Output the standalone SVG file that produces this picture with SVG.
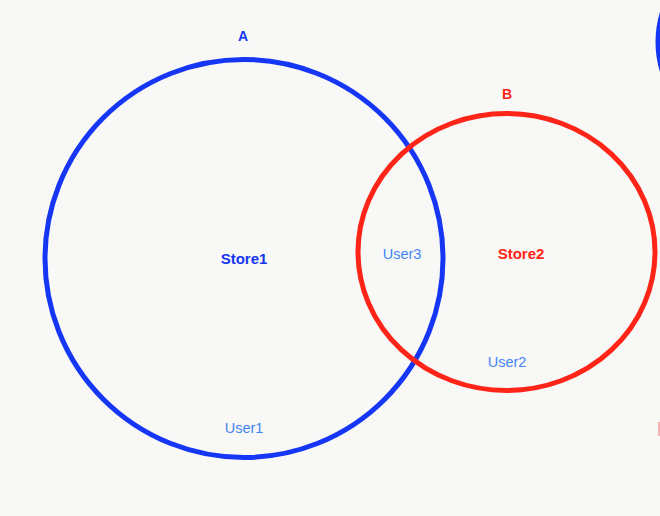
<svg xmlns="http://www.w3.org/2000/svg" width="660" height="516" viewBox="0 0 660 516">
<style>
.ring{fill:none;stroke-width:5}
.blue{stroke:#1636f5}
.red{stroke:#ff2418}
text{font-family:"Helvetica Neue","Liberation Sans",Arial,sans-serif;text-anchor:middle;dominant-baseline:central}
.title{font-weight:bold;font-size:14px}
.store{font-weight:bold;font-size:15px}
.user{font-size:14.5px;fill:#3f86f4}
</style>
<rect x="0" y="0" width="660" height="516" fill="#f8f8f6"/>
<g id="setA">
<circle class="ring blue" cx="244" cy="258.5" r="199"/>
<text class="title" x="243" y="36" fill="#1636f5">A</text>
<text class="store" x="244" y="258" fill="#1636f5">Store1</text>
</g>
<g id="setB">
<ellipse class="ring red" cx="506.5" cy="252" rx="148.5" ry="138.5"/>
<text class="title" x="507" y="94" fill="#ff2418">B</text>
<text class="store" x="521" y="253" fill="#ff2418">Store2</text>
</g>
<g id="user1"><text class="user" x="244" y="428">User1</text></g>
<g id="user2"><text class="user" x="507" y="362">User2</text></g>
<g id="user3"><text class="user" x="402" y="254">User3</text></g>
<g id="offscreen">
<circle class="ring blue" cx="760" cy="42" r="102"/>
<line x1="659" y1="422" x2="659" y2="436" stroke="#f4b4b0" stroke-width="2"/>
</g>
</svg>
